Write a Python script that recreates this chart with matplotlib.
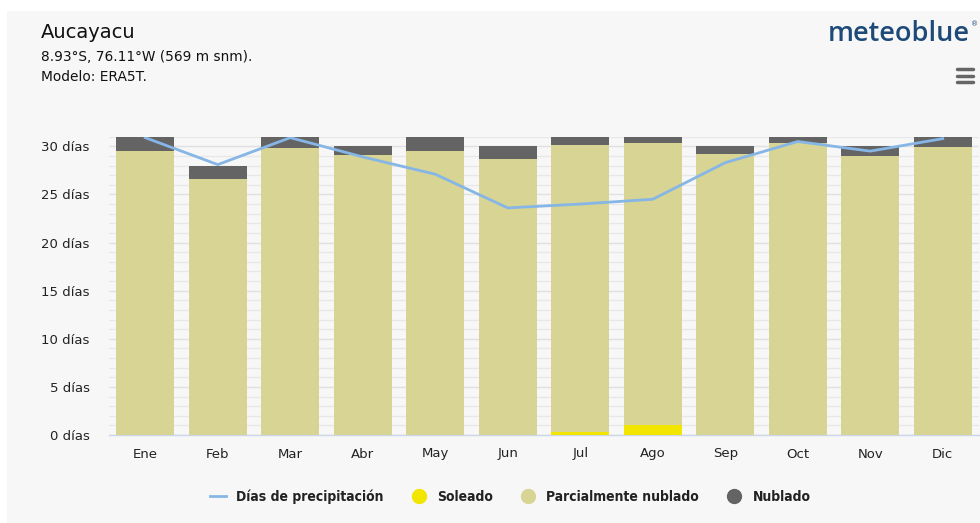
import matplotlib
matplotlib.use("Agg")
import matplotlib.pyplot as plt
import numpy as np
from matplotlib.lines import Line2D
from matplotlib.patches import Rectangle

months = ["Ene", "Feb", "Mar", "Abr", "May", "Jun", "Jul", "Ago", "Sep", "Oct", "Nov", "Dic"]
soleado = [0, 0, 0, 0, 0, 0, 0.3, 1.0, 0, 0, 0, 0]
parcial = [29.5, 26.6, 29.8, 29.1, 29.5, 28.7, 29.85, 29.3, 29.2, 30.3, 28.95, 29.9]
nublado = [1.5, 1.4, 1.2, 0.9, 1.5, 1.3, 0.85, 0.7, 0.8, 0.7, 1.05, 1.1]
precip = [30.9, 28.1, 30.9, 28.9, 27.1, 23.6, 24.0, 24.5, 28.3, 30.5, 29.5, 30.8]
yticks = [0, 5, 10, 15, 20, 25, 30]

c_sun = "#f2e600"
c_part = "#d7d494"
c_cloud = "#646464"
c_line = "#86b6e6"
bg = "#f7f7f7"

fig = plt.figure(figsize=(9.8, 5.23), dpi=100)
fig.patch.set_facecolor("white")
fig.add_artist(Rectangle((7/980, 0), 1, 1 - 11/523, transform=fig.transFigure,
                         facecolor=bg, edgecolor="none", zorder=0))

ax = fig.add_axes([109/980, 1 - 435/523, 870/980, (435 - 136.7)/523])
ax.set_facecolor(bg)
x = np.arange(len(months))
w = 0.8
ax.bar(x, soleado, w, color=c_sun, zorder=3)
ax.bar(x, parcial, w, bottom=soleado, color=c_part, zorder=3)
bot2 = np.array(soleado) + np.array(parcial)
ax.bar(x, nublado, w, bottom=bot2, color=c_cloud, zorder=3)
ax.plot(x, precip, color=c_line, lw=2, zorder=4, solid_joinstyle="round")

ax.set_xlim(-0.5, len(months) - 0.5)
ax.set_ylim(0, 31)
ax.set_yticks(yticks)
ax.set_yticklabels([f"{v} días" for v in yticks])
ax.set_yticks(np.arange(0, 32, 1), minor=True)
ax.grid(axis="y", which="minor", color="#e8e8e8", lw=1, zorder=0)
ax.grid(axis="y", which="major", color="#e0e0e0", lw=1, zorder=0)
ax.set_xticks(x)
ax.set_xticklabels(months)
ax.tick_params(axis="both", which="both", length=0, labelsize=9.5, colors="#222222")
ax.tick_params(axis="x", pad=9)
ax.tick_params(axis="y", pad=14)
for s in ["top", "right", "left"]:
    ax.spines[s].set_visible(False)
ax.spines["bottom"].set_color("#ccd6eb")
ax.spines["bottom"].set_linewidth(1)

fig.text(41/980, 1 - 32/523, "Aucayacu", fontsize=14, color="#111111", va="center")
fig.text(41/980, 1 - 57/523, "8.93°S, 76.11°W (569 m snm).", fontsize=9.9, color="#111111", va="center")
fig.text(41/980, 1 - 77/523, "Modelo: ERA5T.", fontsize=9.9, color="#111111", va="center")
fig.text(970/980, 1 - 34/523, "meteoblue", fontsize=19.5, family="Open Sans", fontweight="semibold",
         color="#1d4a78", ha="right", va="center")
fig.text(971/980, 1 - 24/523, "®", fontsize=5, color="#1d4a78", ha="left", va="center")
for yy in [69, 75.5, 82]:
    fig.add_artist(Line2D([957/980, 973/980], [1 - yy/523, 1 - yy/523], transform=fig.transFigure,
                          color="#666666", lw=2.5, solid_capstyle="round"))

handles = [
    Line2D([], [], color=c_line, lw=2),
    Line2D([], [], marker="o", ls="none", color=c_sun, markersize=10),
    Line2D([], [], marker="o", ls="none", color=c_part, markersize=10),
    Line2D([], [], marker="o", ls="none", color=c_cloud, markersize=10),
]
labels = ["Días de precipitación", "Soleado", "Parcialmente nublado", "Nublado"]
leg = fig.legend(handles, labels, loc="center", bbox_to_anchor=(510/980, 1 - 497/523), ncol=4,
                 frameon=False, handlelength=1.2, columnspacing=1.95, handletextpad=0.7,
                 prop={"size": 10, "weight": "bold", "stretch": "condensed"})
for t in leg.get_texts():
    t.set_color("#222222")

fig.savefig("out.png", dpi=100, facecolor=fig.get_facecolor())
